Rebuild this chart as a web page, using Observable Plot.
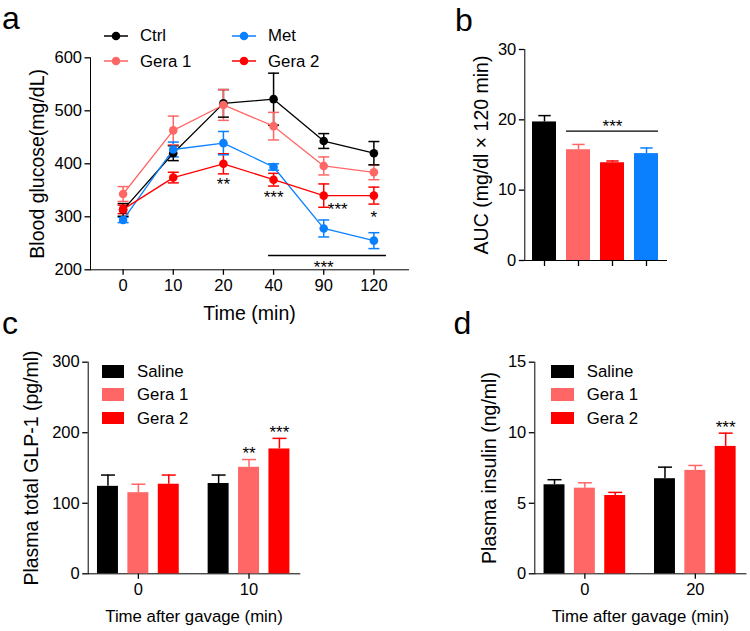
<!DOCTYPE html>
<html><head><meta charset="utf-8">
<script src="https://cdn.jsdelivr.net/npm/d3@7"></script>
<script src="https://cdn.jsdelivr.net/npm/@observablehq/plot@0.6"></script>
<style>
 body{margin:0;background:#fff;}
 #root{position:relative;width:750px;height:631px;overflow:hidden;font-family:"Liberation Sans",Arial,Helvetica,sans-serif;color:#000;background:#fff;}
 #root svg{position:absolute;overflow:visible;}
 .lbl{position:absolute;white-space:nowrap;font-size:16.8px;line-height:20px;height:20px;}
 .letter{position:absolute;font-size:32px;line-height:normal;}
 .sw{position:absolute;}
 #root [aria-label="y-axis label"], #root [aria-label="x-axis label"]{font-size:19.5px;}
 #root svg.small [aria-label="x-axis label"]{font-size:16.8px;}
 #root [aria-label$="tick"]{stroke-width:1.3px;}
</style>
</head><body><div id="root"></div>
<script>
// ---------- data ----------
// Panel a: blood glucose time course
const times = ["0","10","20","40","90","120"];
const seriesNames = ["Ctrl","Gera 1","Met","Gera 2"];
const seriesColors = ["#000000","#ff6666","#0a80ff","#ff0000"];
const ctrlMean  = [313, 420, 514, 522, 443, 420];
const ctrlErr   = [12, 14, 26, 49, 14, 22];
const gera1Mean = [343, 463, 511, 471, 396, 384];
const gera1Err  = [14, 27, 29, 26, 17, 14];
const metMean   = [294, 427, 439, 394, 278, 255];
const metErr    = [5, 14, 22, 6, 16, 15];
const gera2Mean = [314, 374, 400, 370, 340, 340];
const gera2Err  = [8, 10, 19, 12, 22, 16];
const sigAIndex = [2, 3, 4, 5];
const sigAValue = [368, 344, 321, 307];
const sigALabel = ["**", "***", "***", "*"];
const sigAShifted = [false, false, true, false];
const sigALineFrom = 2.9, sigALineTo = 5.25, sigALineValue = 227, sigALineLabel = "***";

// Panel b: AUC
const aucGroups = ["Ctrl","Gera 1","Gera 2","Met"];
const aucColors = ["#000000","#ff6666","#ff0000","#0a80ff"];
const aucMean = [19.7, 15.75, 13.9, 15.2];
const aucErr  = [0.9, 0.75, 0.25, 0.8];
const aucSig = [{from:"Gera 1", to:"Met", mid:"Gera 2", y:18.4, label:"***"}];

// Panels c, d
const gavGroups = ["Saline","Gera 1","Gera 2"];
const gavColors = ["#000000","#ff6666","#ff0000"];
const glpTimes = ["0","10"];
const glpMean = [[124, 115, 127],[128, 151, 177]];
const glpErr  = [[16, 12, 13],[12, 11, 15]];
const glpSig  = [{ti:1, gi:1, label:"**"},{ti:1, gi:2, label:"***"}];
const insTimes = ["0","20"];
const insMean = [[6.31, 6.07, 5.55],[6.74, 7.33, 9.03]];
const insErr  = [[0.36, 0.38, 0.22],[0.82, 0.35, 0.94]];
const insSig  = [{ti:1, gi:2, label:"***"}];

// ---------- helpers ----------
const root = document.getElementById("root");
const FONT = '"Liberation Sans", Arial, Helvetica, sans-serif';
const cap = {draw(ctx, size){ const r = Math.sqrt(size/Math.PI); ctx.moveTo(-r,0); ctx.lineTo(r,0); }};
function place(svg, left, top, cls){ svg.style.left = left+"px"; svg.style.top = top+"px"; if (cls) svg.classList.add(cls); root.appendChild(svg); }
function addHTML(html){ root.insertAdjacentHTML("beforeend", html); }
const baseStyle = {fontFamily: FONT, fontSize: "16.5px", color: "#000", background: "transparent", overflow: "visible"};
const SIG_FS = 17;

// ---------- panel a ----------
const meansA = [ctrlMean, gera1Mean, metMean, gera2Mean];
const errsA  = [ctrlErr, gera1Err, metErr, gera2Err];
const aData = [];
seriesNames.forEach((s, si) => times.forEach((t, i) => aData.push({name: s, xi: i, y: meansA[si][i], e: errsA[si][i]})));
const sigAData = sigAIndex.map((xi, k) => ({xi, y: sigAValue[k], label: sigALabel[k], shifted: sigAShifted[k]}));
const sigALine = [{x1: sigALineFrom, x2: sigALineTo, y: sigALineValue, label: sigALineLabel, xi: 4}];

const plotA = Plot.plot({
  width: 420, height: 330, marginLeft: 90, marginRight: 12, marginTop: 57.3, marginBottom: 60.7,
  style: baseStyle,
  x: {type: "linear", domain: [-0.65, 5.69], ticks: [0,1,2,3,4,5], tickFormat: i => times[i], line: true, tickSize: 5.5, tickPadding: 4,
      label: "Time (min)", labelAnchor: "center", labelOffset: 50, labelArrow: "none"},
  y: {domain: [200, 600], ticks: [200,300,400,500,600], line: true, tickSize: 5.5, tickPadding: 3,
      label: "Blood glucose(mg/dL)", labelAnchor: "center", labelOffset: 60, labelArrow: "none"},
  color: {domain: seriesNames, range: seriesColors},
  marks: [
    Plot.ruleX(aData, {x: "xi", y1: d => d.y - d.e, y2: d => d.y + d.e, stroke: "name", strokeWidth: 1.5}),
    Plot.dot(aData, {x: "xi", y: d => d.y + d.e, symbol: cap, r: 5.5, stroke: "name", fill: "none", strokeWidth: 1.5}),
    Plot.dot(aData, {x: "xi", y: d => d.y - d.e, symbol: cap, r: 5.5, stroke: "name", fill: "none", strokeWidth: 1.5}),
    Plot.line(aData, {x: "xi", y: "y", z: "name", stroke: "name", strokeWidth: 1.3}),
    Plot.dot(aData, {x: "xi", y: "y", fill: "name", r: 4.3}),
    Plot.text(sigAData.filter(d => !d.shifted), {x: "xi", y: "y", text: "label", fontSize: SIG_FS, lineAnchor: "middle", dy: 4}),
    Plot.text(sigAData.filter(d => d.shifted), {x: "xi", y: "y", text: "label", fontSize: SIG_FS, lineAnchor: "middle", dy: 4, dx: 14}),
    Plot.ruleY(sigALine, {x1: "x1", x2: "x2", y: "y", strokeWidth: 1.3}),
    Plot.text(sigALine, {x: "xi", y: "y", text: "label", fontSize: SIG_FS, lineAnchor: "middle", dy: 12})
  ]
});
place(plotA, 0, 0);

// legend a
seriesNames.forEach((s, i) => {
  const col = Math.floor(i / 2), row = i % 2;
  const cy = 35.7 + row * 25.3;
  const sx = 104 + col * 128, lx = 140 + col * 128;
  addHTML(`<svg class="sw" width="25" height="12" style="left:${sx}px;top:${cy-6}px"><line x1="0" x2="24" y1="6" y2="6" stroke="${seriesColors[i]}" stroke-width="1.5"/><circle cx="12" cy="6" r="4.3" fill="${seriesColors[i]}"/></svg>`);
  addHTML(`<div class="lbl" style="left:${lx}px;top:${cy-9.5}px;font-size:16.8px">${s}</div>`);
});

// ---------- panel b ----------
const aucData = aucGroups.map((g, i) => ({g, v: aucMean[i], e: aucErr[i]}));
const plotB = Plot.plot({
  width: 330, height: 310, marginLeft: 104.3, marginRight: 84, marginTop: 49, marginBottom: 50,
  style: baseStyle,
  x: {domain: aucGroups, paddingInner: 0.3, paddingOuter: 0.18, tickFormat: () => "", line: true, tickSize: 6, label: null},
  y: {domain: [0, 30], ticks: [0,10,20,30], line: true, tickSize: 5.5, tickPadding: 3,
      label: "AUC (mg/dl × 120 min)", labelAnchor: "center", labelOffset: 51, labelArrow: "none"},
  color: {domain: aucGroups, range: aucColors},
  marks: [
    Plot.ruleX(aucData, {x: "g", y1: "v", y2: d => d.v + d.e, stroke: "g", strokeWidth: 1.5}),
    Plot.dot(aucData, {x: "g", y: d => d.v + d.e, symbol: cap, r: 6.2, stroke: "g", fill: "none", strokeWidth: 1.5}),
    Plot.barY(aucData, {x: "g", y: "v", fill: "g"}),
    Plot.ruleY(aucSig, {x1: "from", x2: "to", y: "y", strokeWidth: 1.3}),
    Plot.text(aucSig, {x: "mid", y: "y", text: "label", fontSize: SIG_FS, lineAnchor: "middle", dy: -5})
  ]
});
place(plotB, 420, 0);

// ---------- panels c & d ----------
const GROUP_STEP = 3.64;
function groupedRows(tList, means, errs){
  const rows = [];
  tList.forEach((t, ti) => gavGroups.forEach((g, gi) => rows.push({t, ti, g, gi, pos: ti * GROUP_STEP + gi, v: means[ti][gi], e: errs[ti][gi]})));
  return rows;
}
function groupedPlot(tList, means, errs, sig, yDomain, yTicks, yLabel, labelOffsetY, ml, mr){
  const rows = groupedRows(tList, means, errs);
  const sigRows = sig.map(s => ({...rows.find(r => r.ti === s.ti && r.gi === s.gi), label: s.label}));
  return Plot.plot({
    width: 375, height: 321, marginLeft: ml, marginRight: mr, marginTop: 51.7, marginBottom: 57.7,
    style: baseStyle,
    x: {type: "linear", domain: [-0.65, 6.31], ticks: tList.map((t, ti) => 1 + ti * GROUP_STEP),
        tickFormat: d => tList[Math.round((d - 1) / GROUP_STEP)], line: true, tickSize: 5.5, tickPadding: 4,
        label: "Time after gavage (min)", labelAnchor: "center", labelOffset: 48, labelArrow: "none"},
    y: {domain: yDomain, ticks: yTicks, line: true, tickSize: 5.5, tickPadding: 3, label: yLabel, labelAnchor: "center", labelOffset: labelOffsetY, labelArrow: "none"},
    color: {domain: gavGroups, range: gavColors},
    marks: [
      Plot.ruleX(rows, {x: "pos", y1: "v", y2: d => d.v + d.e, stroke: "g", strokeWidth: 1.5}),
      Plot.dot(rows, {x: "pos", y: d => d.v + d.e, symbol: cap, r: 7, stroke: "g", fill: "none", strokeWidth: 1.5}),
      Plot.rect(rows, {x1: d => d.pos - 0.345, x2: d => d.pos + 0.345, y1: d => 0, y2: "v", fill: "g"}),
      Plot.text(sigRows, {x: "pos", y: d => d.v + d.e, text: "label", fontSize: SIG_FS, lineAnchor: "middle", dy: -6})
    ]
  });
}
const plotC = groupedPlot(glpTimes, glpMean, glpErr, glpSig, [0, 300], [0,100,200,300], "Plasma total GLP-1 (pg/ml)", 63.7, 87.7, 75.7);
place(plotC, 0, 310, "small");
const plotD = groupedPlot(insTimes, insMean, insErr, insSig, [0, 15], [0,5,10,15], "Plasma insulin (ng/ml)", 52.6, 159.3, 4.5);
place(plotD, 375, 310, "small");

// legends c, d
const legendRowsY = [371.7, 394.5, 418];
[[101.5, 137], [551, 586.7]].forEach(([sx, lx]) => {
  gavGroups.forEach((g, i) => {
    addHTML(`<div class="sw" style="left:${sx}px;top:${legendRowsY[i]-6.3}px;width:22.8px;height:12.6px;background:${gavColors[i]}"></div>`);
    addHTML(`<div class="lbl" style="left:${lx}px;top:${legendRowsY[i]-9.5}px">${g}</div>`);
  });
});

// panel letters
[["a", 2, 0], ["b", 455, 1.5], ["c", 2, 304.5], ["d", 453.5, 305]].forEach(([t, x, y]) => {
  addHTML(`<div class="letter" style="left:${x}px;top:${y}px">${t}</div>`);
});
</script>
</body></html>
